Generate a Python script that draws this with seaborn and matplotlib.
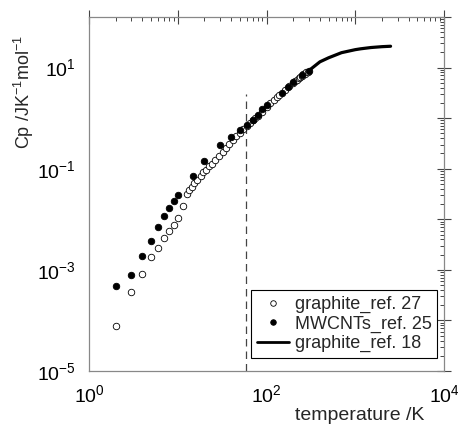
import numpy as np
import pandas as pd
import matplotlib
matplotlib.use("Agg")
import matplotlib.pyplot as plt
import matplotlib.ticker as mticker
from matplotlib.lines import Line2D
import seaborn as sns

# ---- data ----
open_T = [2, 3, 4, 5, 6, 7, 8, 9, 10, 11.4, 12.6, 13.4, 14.4, 15.4, 16.5, 18.2, 19.5,
          20.9, 22.4, 24.2, 26.6, 29.5, 32.2, 35.1, 38.2, 41.7, 45.5, 50.5, 55, 60,
          65, 70, 75, 80, 90, 100, 110, 120, 130, 140, 160, 180, 200, 210, 220, 230,
          240, 250, 260, 270, 280, 290]
open_Cp = [7.7e-5, 3.6e-4, 8.3e-4, 1.8e-3, 2.7e-3, 4.2e-3, 6.0e-3, 7.7e-3, 1.06e-2,
           0.0179, 0.0316, 0.0384, 0.0434, 0.052, 0.0605, 0.0717, 0.0845, 0.0955,
           0.111, 0.126, 0.151, 0.181, 0.217, 0.257, 0.313, 0.375, 0.436, 0.51, 0.61,
           0.71, 0.80, 0.90, 1.0, 1.1, 1.35, 1.65, 1.95, 2.25, 2.6, 2.9, 3.6, 4.3,
           5.0, 5.4, 5.8, 6.2, 6.6, 6.9, 7.3, 7.6, 8.0, 8.3]

fill_T = [2, 3, 4, 5, 6, 7, 8, 9, 10, 15, 20, 30, 40, 50, 60, 70, 80, 90, 100,
          150, 175, 200, 250, 300]
fill_Cp = [4.7e-4, 7.8e-4, 1.9e-3, 3.8e-3, 7.1e-3, 1.14e-2, 0.0166, 0.023, 0.0305,
           0.0705, 0.145, 0.30, 0.42, 0.59, 0.73, 0.93, 1.16, 1.5, 1.85,
           3.2, 4.2, 5.3, 7.0, 8.7]

line_T = [250, 300, 400, 500, 700, 1000, 1150, 1500, 2000, 2500]
line_Cp = [7.2, 8.7, 13.0, 15.6, 19.7, 22.6, 23.5, 24.9, 25.9, 26.4]

dashed_T = 59
dashed_top = 3.0

labels = ["graphite_ref. 27", "MWCNTs_ref. 25", "graphite_ref. 18"]
xlabel = "temperature /K"
ylabel = "Cp /JK$^{-1}$mol$^{-1}$"

df_open = pd.DataFrame({"T": open_T, "Cp": open_Cp})
df_fill = pd.DataFrame({"T": fill_T, "Cp": fill_Cp})
df_line = pd.DataFrame({"T": line_T, "Cp": line_Cp})

# ---- style ----
sns.set_style("white")
plt.rcParams["font.family"] = ["Liberation Sans", "DejaVu Sans"]
plt.rcParams["mathtext.fontset"] = "custom"
plt.rcParams["mathtext.rm"] = "Liberation Sans"
plt.rcParams["mathtext.it"] = "Liberation Sans:italic"
plt.rcParams["mathtext.bf"] = "Liberation Sans:bold"

fig = plt.figure(figsize=(4.58, 4.24), dpi=100)
ax = fig.add_axes([89 / 458, 53 / 424, 355 / 458, 354 / 424])

sns.lineplot(data=df_line, x="T", y="Cp", ax=ax, color="black", linewidth=2.3,
             sort=True, estimator=None, zorder=2)
sns.scatterplot(data=df_open, x="T", y="Cp", ax=ax, color="white", edgecolor="black",
                linewidth=0.6, s=22, zorder=3)
sns.scatterplot(data=df_fill, x="T", y="Cp", ax=ax, color="black", edgecolor="black",
                linewidth=0.6, s=22, zorder=4)
ax.vlines(dashed_T, 1e-5, dashed_top, colors="#444444", linestyles=(0, (6, 4)),
          linewidth=0.9, zorder=1)

ax.set_xscale("log")
ax.set_yscale("log")
ax.set_xlim(1, 1e4)
ax.set_ylim(1e-5, 1e2)

# ticks
ax.xaxis.set_major_locator(mticker.LogLocator(base=10, numticks=10))
ax.yaxis.set_major_locator(mticker.LogLocator(base=10, numticks=10))
ax.xaxis.set_minor_locator(mticker.LogLocator(base=10, subs=np.arange(2, 10), numticks=20))
ax.yaxis.set_minor_locator(mticker.LogLocator(base=10, subs=np.arange(2, 10), numticks=20))
ax.xaxis.set_minor_formatter(mticker.NullFormatter())
ax.yaxis.set_minor_formatter(mticker.NullFormatter())


def xfmt(v, pos):
    e = int(round(np.log10(v)))
    return r"$10^{%d}$" % e if e % 2 == 0 else ""


def yfmt(v, pos):
    e = int(round(np.log10(v)))
    return r"$10^{%d}$" % e if e % 2 != 0 else ""


ax.xaxis.set_major_formatter(mticker.FuncFormatter(xfmt))
ax.yaxis.set_major_formatter(mticker.FuncFormatter(yfmt))

ax.tick_params(which="major", direction="inout", length=9.5, width=0.8,
               color="#444444", top=True, right=True, labelsize=14, pad=5,
               labelcolor="black")
ax.tick_params(which="minor", direction="in", length=2.8, width=0.7,
               color="#444444", top=True, right=True)
for sp in ax.spines.values():
    sp.set_color("#888888")
    sp.set_linewidth(0.9)

ax.set_xlabel(xlabel, fontsize=14)
ax.set_ylabel(ylabel, fontsize=13)
ax.xaxis.set_label_coords(0.763, -0.103)
ax.yaxis.set_label_coords(-0.148, 0.788)

handles = [
    Line2D([], [], marker="o", linestyle="none", markerfacecolor="white",
           markeredgecolor="black", markersize=4, markeredgewidth=0.6),
    Line2D([], [], marker="o", linestyle="none", markerfacecolor="black",
           markeredgecolor="black", markersize=4, markeredgewidth=0.6),
    Line2D([], [], color="black", linewidth=2.0),
]
leg = ax.legend(handles, labels, loc="lower right", bbox_to_anchor=(0.98, 0.037),
                borderaxespad=0, fontsize=13, frameon=True, fancybox=False,
                framealpha=1, edgecolor="black", handlelength=1.8,
                handletextpad=0.3, labelspacing=0.14, borderpad=0.3)
leg.get_frame().set_linewidth(0.8)

fig.savefig("out.png", dpi=100)
